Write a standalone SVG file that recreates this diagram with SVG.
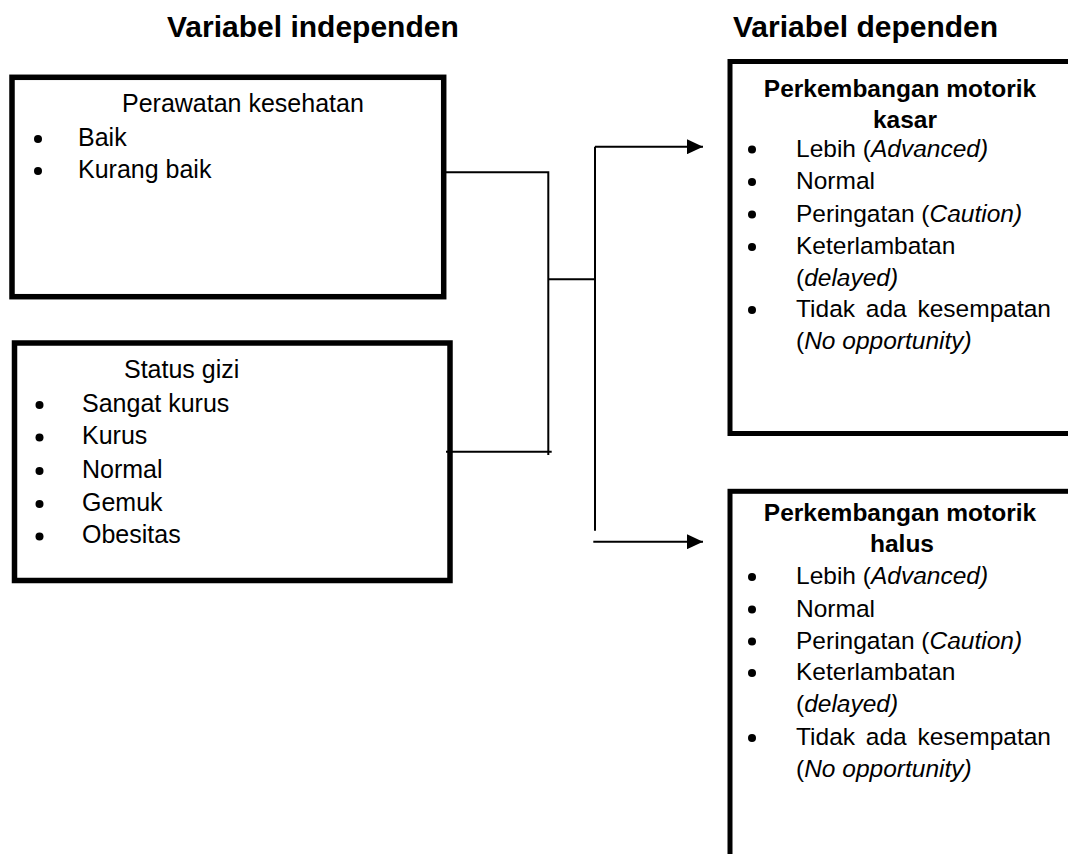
<svg xmlns="http://www.w3.org/2000/svg" width="1068" height="854" viewBox="0 0 1068 854">
<style>
  text { font-family: "Liberation Sans", Arial, sans-serif; fill: #000; }
  .title { font-size: 30px; font-weight: bold; }
  .lt { font-size: 25px; }
  .rt { font-size: 24.5px; }
  .rb { font-size: 24.5px; font-weight: bold; text-anchor: middle; }
  .it { font-style: italic; }
  .box { fill: #fff; stroke: #000; stroke-width: 5.5; }
  .rbox { fill: #fff; stroke: #000; stroke-width: 5; }
  .conn { fill: none; stroke: #000; stroke-width: 2; }
</style>
<defs>
  <marker id="arrow" markerUnits="userSpaceOnUse" markerWidth="16" markerHeight="15" refX="16" refY="7.5" orient="auto">
    <path d="M0,0 L16,7.5 L0,15 z" fill="#000"/>
  </marker>
  <circle id="dot" r="4" fill="#000"/>
</defs>
<rect width="1068" height="854" fill="#fff"/>

<g id="headings">
  <text class="title" x="167" y="37">Variabel independen</text>
  <text class="title" x="733" y="37">Variabel dependen</text>
</g>

<g id="perawatan">
  <rect class="box" x="12" y="77.3" width="431.7" height="219.4"/>
  <text class="lt" x="122" y="112">Perawatan kesehatan</text>
  <use href="#dot" x="38" y="139"/>
  <text class="lt" x="78" y="146">Baik</text>
  <use href="#dot" x="38" y="171"/>
  <text class="lt" x="78" y="178">Kurang baik</text>
</g>

<g id="status-gizi">
  <rect class="box" x="14.5" y="343" width="435.5" height="237.5"/>
  <text class="lt" x="124" y="378">Status gizi</text>
  <use href="#dot" x="39.5" y="405"/>
  <text class="lt" x="82" y="411.5">Sangat kurus</text>
  <use href="#dot" x="39.5" y="437.5"/>
  <text class="lt" x="82" y="444">Kurus</text>
  <use href="#dot" x="39.5" y="471"/>
  <text class="lt" x="82" y="477.5">Normal</text>
  <use href="#dot" x="39.5" y="504"/>
  <text class="lt" x="82" y="510.5">Gemuk</text>
  <use href="#dot" x="39.5" y="536.5"/>
  <text class="lt" x="82" y="543">Obesitas</text>
</g>

<g id="motorik-kasar">
  <rect class="rbox" x="730" y="61.5" width="345" height="372"/>
  <text class="rb" x="900" y="96.7">Perkembangan motorik</text>
  <text class="rb" x="905" y="128.3">kasar</text>
  <use href="#dot" x="752" y="149.5"/>
  <text class="rt" x="796" y="156.7">Lebih (<tspan class="it">Advanced)</tspan></text>
  <use href="#dot" x="752" y="182"/>
  <text class="rt" x="796" y="189">Normal</text>
  <use href="#dot" x="752" y="214.5"/>
  <text class="rt" x="796" y="221.5">Peringatan (<tspan class="it">Caution)</tspan></text>
  <use href="#dot" x="752" y="247"/>
  <text class="rt" x="796" y="254">Keterlambatan</text>
  <text class="rt" x="796" y="285.5">(<tspan class="it">delayed)</tspan></text>
  <use href="#dot" x="752" y="310"/>
  <text class="rt" x="796" y="317" word-spacing="4">Tidak ada kesempatan</text>
  <text class="rt" x="796" y="349">(<tspan class="it">No opportunity)</tspan></text>
</g>

<g id="motorik-halus">
  <rect class="rbox" x="730" y="491.3" width="345" height="380"/>
  <text class="rb" x="900" y="520.7">Perkembangan motorik</text>
  <text class="rb" x="902" y="551.7">halus</text>
  <use href="#dot" x="752" y="577"/>
  <text class="rt" x="796" y="584">Lebih (<tspan class="it">Advanced)</tspan></text>
  <use href="#dot" x="752" y="609.5"/>
  <text class="rt" x="796" y="616.5">Normal</text>
  <use href="#dot" x="752" y="641.5"/>
  <text class="rt" x="796" y="648.5">Peringatan (<tspan class="it">Caution)</tspan></text>
  <use href="#dot" x="752" y="673"/>
  <text class="rt" x="796" y="680">Keterlambatan</text>
  <text class="rt" x="796" y="711.7">(<tspan class="it">delayed)</tspan></text>
  <use href="#dot" x="752" y="738"/>
  <text class="rt" x="796" y="745" word-spacing="4">Tidak ada kesempatan</text>
  <text class="rt" x="796" y="776.7">(<tspan class="it">No opportunity)</tspan></text>
</g>

<g id="connectors">
  <path class="conn" d="M446,172.3 H548.3 V455"/>
  <path class="conn" d="M446,451.7 H551.7"/>
  <path class="conn" d="M548.3,279.3 H595"/>
  <path class="conn" d="M595,146.7 V530.7"/>
  <path class="conn" d="M595,146.7 H703" marker-end="url(#arrow)"/>
  <path class="conn" d="M593.3,541.7 H703" marker-end="url(#arrow)"/>
</g>
</svg>
